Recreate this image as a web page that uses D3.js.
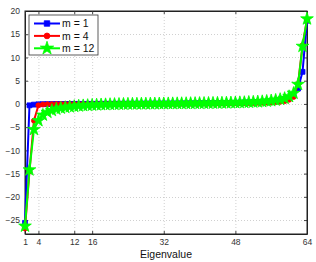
<!DOCTYPE html>
<html>
<head>
<meta charset="utf-8">
<script src="https://cdn.jsdelivr.net/npm/d3@7"></script>
<style>
  body { margin: 0; background: #fff; }
  svg { display: block; font-family: "Liberation Sans", Arial, sans-serif; }
</style>
</head>
<body>
<div id="chart"></div>
<script>
// Data (eigenvalue index 1..64)
const seriesNames = ["m = 1", "m = 4", "m = 12"];
const m1 = [-25.6, -0.3, -0.15, -0.08, -0.05, -0.04, -0.03, -0.02, -0.02, -0.01,
  -0.01, 0.0, 0.0, 0.0, 0.0, 0.01, 0.01, 0.02, 0.02, 0.03,
  0.03, 0.04, 0.04, 0.05, 0.05, 0.06, 0.06, 0.07, 0.07, 0.08,
  0.08, 0.09, 0.09, 0.1, 0.1, 0.11, 0.12, 0.12, 0.13, 0.14,
  0.15, 0.16, 0.17, 0.18, 0.2, 0.21, 0.23, 0.25, 0.27, 0.3,
  0.33, 0.36, 0.4, 0.45, 0.5, 0.58, 0.68, 0.82, 1.0, 1.3,
  2.0, 3.3, 6.9, 17.9];
const m4 = [-26.8, -14.5, -3.6, -0.3, -0.12, -0.07, -0.05, -0.04, -0.03, -0.02,
  -0.02, -0.01, -0.01, 0.0, 0.0, 0.0, 0.01, 0.01, 0.02, 0.02,
  0.02, 0.03, 0.03, 0.04, 0.04, 0.05, 0.05, 0.05, 0.06, 0.06,
  0.07, 0.07, 0.08, 0.08, 0.09, 0.09, 0.1, 0.1, 0.11, 0.11,
  0.12, 0.12, 0.13, 0.14, 0.14, 0.15, 0.16, 0.17, 0.18, 0.19,
  0.2, 0.22, 0.24, 0.26, 0.29, 0.33, 0.38, 0.45, 0.6, 0.9,
  1.5, 4.3, 12.6, 18.2];
const m12 = [-26.3, -14.2, -5.5, -3.6, -2.4, -1.8, -1.4, -1.1, -0.9, -0.75,
  -0.62, -0.52, -0.43, -0.36, -0.3, -0.25, -0.2, -0.16, -0.13, -0.1,
  -0.08, -0.06, -0.04, -0.02, -0.01, 0.0, 0.01, 0.02, 0.03, 0.04,
  0.05, 0.06, 0.07, 0.08, 0.09, 0.1, 0.11, 0.12, 0.13, 0.14,
  0.15, 0.16, 0.18, 0.19, 0.21, 0.23, 0.25, 0.27, 0.3, 0.33,
  0.37, 0.41, 0.46, 0.52, 0.6, 0.7, 0.82, 0.98, 1.2, 1.6,
  2.3, 4.2, 12.4, 18.3];
const xTicks = [1, 4, 12, 16, 32, 48, 64];
const yTicks = [-25, -20, -15, -10, -5, 0, 5, 10, 15, 20];

const width = 316, height = 262;
const padL = 25, padR = 307, padT = 11, padB = 234;

const svg = d3.select("#chart").append("svg").attr("width", width).attr("height", height);

const x = d3.scaleLinear().domain([1, 64]).range([padL, padR]);
const y = d3.scaleLinear().domain([-28, 20]).range([padB, padT]);

//grid lines
const grid = svg.append("g").attr("stroke", "#b0b0b0").attr("stroke-width", 0.6).attr("stroke-dasharray", "1,2");
grid.selectAll(".gx").data(xTicks.filter(d => d > 1 && d < 64)).enter().append("line")
  .attr("x1", d => x(d) + 0.5).attr("x2", d => x(d) + 0.5).attr("y1", padT).attr("y2", padB);
grid.selectAll(".gy").data(yTicks).enter().append("line")
  .attr("y1", d => Math.round(y(d)) + 0.5).attr("y2", d => Math.round(y(d)) + 0.5).attr("x1", padL).attr("x2", padR);

//axes with inward ticks
const xAxis = d3.axisBottom(x).tickValues(xTicks).tickSizeInner(-3).tickSizeOuter(0).tickPadding(5);
const yAxis = d3.axisLeft(y).tickValues(yTicks).tickSizeInner(-3).tickSizeOuter(0).tickPadding(5)
  .tickFormat(d => d < 0 ? "\u2212" + Math.abs(d) : d);
svg.append("g").attr("transform", `translate(0,${padB})`).call(xAxis);
svg.append("g").attr("transform", `translate(${padL},0)`).call(yAxis);
svg.append("g").attr("transform", `translate(0,${padT})`).call(d3.axisTop(x).tickValues(xTicks).tickSizeInner(-3).tickSizeOuter(0).tickFormat(""));
svg.append("g").attr("transform", `translate(${padR},0)`).call(d3.axisRight(y).tickValues(yTicks).tickSizeInner(-3).tickSizeOuter(0).tickFormat(""));
svg.selectAll(".domain").attr("stroke", "#222");
svg.selectAll(".tick line").attr("stroke", "#444");
svg.selectAll(".tick text").attr("font-size", 8.5).attr("fill", "#333").attr("font-family", "Liberation Sans, Arial, sans-serif");
svg.append("rect").attr("x", padL).attr("y", padT).attr("width", padR - padL).attr("height", padB - padT)
  .attr("fill", "none").attr("stroke", "#222").attr("stroke-width", 1);

//series
const series = [
  { name: seriesNames[0], values: m1, color: "#0000ff", sym: d3.symbolSquare, size: 24 },
  { name: seriesNames[1], values: m4, color: "#ff0000", sym: d3.symbolCircle, size: 20 },
  { name: seriesNames[2], values: m12, color: "#00ff00", sym: d3.symbolStar, size: 50 }
];
const line = d3.line().x((d, i) => x(i + 1)).y(d => y(d));

series.forEach(s => {
  const g = svg.append("g");
  g.append("path").datum(s.values).attr("d", line).attr("fill", "none").attr("stroke", s.color).attr("stroke-width", 2);
  g.selectAll("path.mk").data(s.values).enter().append("path").attr("class", "mk")
    .attr("d", d3.symbol().type(s.sym).size(s.size))
    .attr("transform", (d, i) => `translate(${x(i + 1)},${y(d)})`)
    .attr("fill", s.color).attr("stroke", s.color).attr("stroke-width", 0.8);
});

//legend
const legend = svg.append("g").attr("transform", "translate(29,15)");
legend.append("rect").attr("width", 69).attr("height", 40).attr("fill", "#fff").attr("stroke", "#333").attr("stroke-width", 0.8);
series.forEach((s, i) => {
  const ly = 8.5 + i * 12.4;
  legend.append("line").attr("x1", 5).attr("x2", 31).attr("y1", ly).attr("y2", ly).attr("stroke", s.color).attr("stroke-width", 2);
  legend.append("path").attr("d", d3.symbol().type(s.sym).size(s.size + 6)).attr("transform", `translate(18,${ly})`)
    .attr("fill", s.color).attr("stroke", s.color).attr("stroke-width", 0.8);
  legend.append("text").attr("x", 33).attr("y", ly + 3.6).attr("font-size", 10.5).attr("fill", "#111").text(s.name);
});

//x label
svg.append("text").attr("x", (padL + padR) / 2).attr("y", 258).attr("text-anchor", "middle")
  .attr("font-size", 10.5).attr("fill", "#111").text("Eigenvalue");
</script>
</body>
</html>
